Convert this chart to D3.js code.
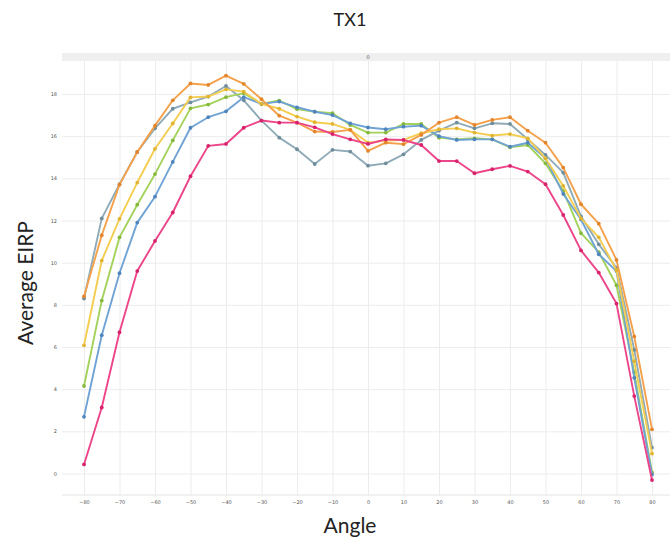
<!DOCTYPE html>
<html>
<head>
<meta charset="utf-8">
<script src="https://cdn.jsdelivr.net/npm/d3@7"></script>
<style>
  body { margin: 0; background: #ffffff; }
  svg { display: block; }
</style>
</head>
<body>
<script>

// angles of the measurements
var angles = [-80, -75, -70, -65, -60, -55, -50, -45, -40, -35, -30, -25, -20, -15, -10, -5,
              0, 5, 10, 15, 20, 25, 30, 35, 40, 45, 50, 55, 60, 65, 70, 75, 80];

// average EIRP per series
var orangeSeries = [8.4, 11.3, 13.7, 15.25, 16.5, 17.7, 18.5, 18.43, 18.87, 18.48, 17.75, 16.97, 16.64, 16.22, 16.2, 16.3,
                    15.3, 15.69, 15.62, 16.06, 16.64, 16.9, 16.53, 16.77, 16.9, 16.26, 15.69, 14.51, 12.77, 11.85, 10.13, 6.5, 2.09];
var graySeries = [8.3, 12.1, 13.72, 15.25, 16.37, 17.3, 17.6, 17.88, 18.38, 17.7, 16.74, 15.93, 15.38, 14.68, 15.35, 15.27,
                  14.6, 14.71, 15.14, 15.82, 16.26, 16.64, 16.37, 16.61, 16.58, 15.85, 15.11, 14.27, 12.2, 10.87, 9.76, 5.87, 1.23];
var yellowSeries = [6.08, 10.1, 12.08, 13.8, 15.4, 16.6, 17.84, 17.88, 18.22, 18.11, 17.53, 17.3, 16.93, 16.66, 16.58, 16.3,
                    15.69, 15.79, 15.82, 16.14, 16.33, 16.37, 16.17, 16.03, 16.1, 15.9, 14.95, 13.64, 12.1, 11.2, 9.64, 5.32, 0.94];
var greenSeries = [4.15, 8.2, 11.2, 12.75, 14.2, 15.8, 17.32, 17.5, 17.85, 18.04, 17.53, 17.69, 17.28, 17.16, 17.09, 16.53,
                   16.17, 16.17, 16.58, 16.58, 15.93, 15.85, 15.9, 15.85, 15.47, 15.58, 14.71, 13.4, 11.4, 10.5, 8.93, 4.8, 0.05];
var blueSeries = [2.69, 6.56, 9.5, 11.9, 13.13, 14.78, 16.4, 16.9, 17.18, 17.85, 17.53, 17.64, 17.37, 17.16, 17.0, 16.61,
                  16.41, 16.33, 16.45, 16.5, 16.0, 15.82, 15.85, 15.85, 15.5, 15.69, 14.95, 13.26, 12.05, 10.4, 9.6, 4.54, -0.05];
var pinkSeries = [0.43, 3.13, 6.7, 9.6, 11.03, 12.38, 14.1, 15.54, 15.63, 16.4, 16.74, 16.64, 16.64, 16.42, 16.1, 15.85,
                  15.63, 15.85, 15.82, 15.58, 14.82, 14.82, 14.24, 14.43, 14.59, 14.32, 13.72, 12.26, 10.58, 9.53, 8.06, 3.67, -0.31];

// tick values of both axes
var xTicks = [-80, -70, -60, -50, -40, -30, -20, -10, 0, 10, 20, 30, 40, 50, 60, 70, 80];
var yTicks = [0, 2, 4, 6, 8, 10, 12, 14, 16, 18];

// texts
var chartTitle = "TX1";
var stripLabel = "0";
var xTitle = "Angle";
var yTitle = "Average EIRP";

// series in drawing order with their colours
var series = [
  {values: graySeries, line: "#8fabb8", dot: "#6f8d9c"},
  {values: greenSeries, line: "#a3d25a", dot: "#86b83e"},
  {values: blueSeries, line: "#70a3d5", dot: "#4f84bd"},
  {values: yellowSeries, line: "#f4cd50", dot: "#e0b430"},
  {values: orangeSeries, line: "#f5a14b", dot: "#e2852c"},
  {values: pinkSeries, line: "#ec4589", dot: "#d8236c"}
];

var width = 670;
var height = 542;

// plot area
var plotLeft = 62;
var plotRight = 672;
var plotTop = 61;
var plotBottom = 495;

var xScale = d3.scaleLinear()
               .domain([-80, 80])
               .range([84, 652]);

var yScale = d3.scaleLinear()
               .domain([0, 18])
               .range([473.5, 94]);

var svg = d3.select("body")
            .append("svg")
            .attr("width", width)
            .attr("height", height);

// title on top
svg.append("text")
   .attr("x", 350)
   .attr("y", 26)
   .attr("text-anchor", "middle")
   .style("font-family", "Lato, 'Open Sans', sans-serif")
   .style("font-size", "18px")
   .style("fill", "#222")
   .text(chartTitle);

// grey strip above the plot
svg.append("rect")
   .attr("x", plotLeft)
   .attr("y", 53)
   .attr("width", plotRight - plotLeft)
   .attr("height", plotTop - 53)
   .attr("fill", "#efefef");

svg.append("text")
   .attr("x", xScale(0))
   .attr("y", 59)
   .attr("text-anchor", "middle")
   .style("font-family", "'DejaVu Sans', sans-serif")
   .style("font-size", "5px")
   .style("fill", "#555")
   .text(stripLabel);

// vertical grid lines
var xAxisGrid = d3.axisBottom(xScale)
                  .tickValues(xTicks)
                  .tickSize(-(plotBottom - plotTop))
                  .tickFormat("");

svg.append("g")
   .attr("class", "grid")
   .attr("transform", "translate(0," + plotBottom + ")")
   .call(xAxisGrid);

// horizontal grid lines
var yAxisGrid = d3.axisLeft(yScale)
                  .tickValues(yTicks)
                  .tickSize(-(plotRight - plotLeft))
                  .tickFormat("");

svg.append("g")
   .attr("class", "grid")
   .attr("transform", "translate(" + plotLeft + ",0)")
   .call(yAxisGrid);

svg.selectAll(".grid line")
   .attr("stroke", "#ececec")
   .attr("stroke-width", 1);
svg.selectAll(".grid .domain").remove();

// bottom border of the plot
svg.append("line")
   .attr("x1", plotLeft)
   .attr("x2", plotRight)
   .attr("y1", plotBottom)
   .attr("y2", plotBottom)
   .attr("stroke", "#e4e4e4");

// x tick labels
var xAxis = d3.axisBottom(xScale)
              .tickValues(xTicks)
              .tickSize(0)
              .tickPadding(5);

var xAxisG = svg.append("g")
                .attr("transform", "translate(0," + plotBottom + ")")
                .call(xAxis);
xAxisG.select(".domain").remove();
xAxisG.selectAll("text")
      .style("font-family", "'DejaVu Sans', sans-serif")
      .style("font-size", "5px")
      .style("fill", "#555");

// y tick labels
var yAxis = d3.axisLeft(yScale)
              .tickValues(yTicks)
              .tickSize(0)
              .tickPadding(5);

var yAxisG = svg.append("g")
                .attr("transform", "translate(" + plotLeft + ",0)")
                .call(yAxis);
yAxisG.select(".domain").remove();
yAxisG.selectAll("text")
      .style("font-family", "'DejaVu Sans', sans-serif")
      .style("font-size", "5px")
      .style("fill", "#555");

// lines and dots for every series
var line = d3.line()
             .x(function(d, i) { return xScale(angles[i]); })
             .y(function(d) { return yScale(d); });

series.forEach(function(s) {
  svg.append("path")
     .datum(s.values)
     .attr("d", line)
     .attr("fill", "none")
     .attr("stroke", s.line)
     .attr("stroke-width", 1.9)
     .attr("stroke-linejoin", "round");

  svg.append("g")
     .selectAll("circle")
     .data(s.values)
     .enter()
     .append("circle")
     .attr("cx", function(d, i) { return xScale(angles[i]); })
     .attr("cy", function(d) { return yScale(d); })
     .attr("r", 1.9)
     .attr("fill", s.dot);
});

// axis titles
svg.append("text")
   .attr("x", 350)
   .attr("y", 533)
   .attr("text-anchor", "middle")
   .style("font-family", "Lato, 'Open Sans', sans-serif")
   .style("font-size", "21px")
   .style("fill", "#222")
   .text(xTitle);

svg.append("text")
   .attr("text-anchor", "middle")
   .attr("transform", "translate(33,283)rotate(-90)")
   .style("font-family", "Lato, 'Open Sans', sans-serif")
   .style("font-size", "21px")
   .style("fill", "#222")
   .text(yTitle);

</script>
</body>
</html>
